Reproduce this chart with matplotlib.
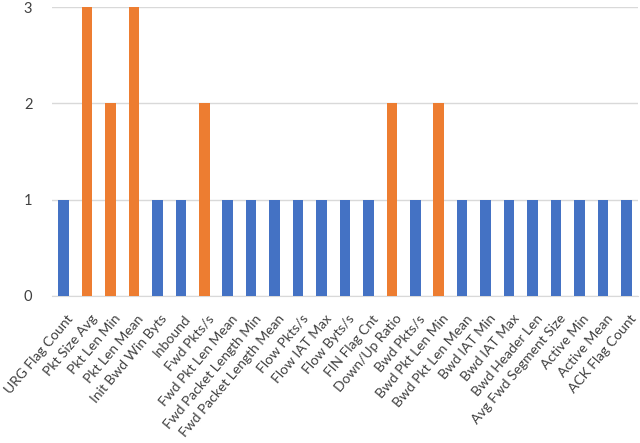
import matplotlib
matplotlib.use("Agg")
import matplotlib.pyplot as plt
from matplotlib.transforms import ScaledTranslation

categories = ["URG Flag Count", "Pkt Size Avg", "Pkt Len Min", "Pkt Len Mean", "Init Bwd Win Byts",
              "Inbound", "Fwd Pkts/s", "Fwd Pkt Len Mean", "Fwd Packet Length Min",
              "Fwd Packet Length Mean", "Flow Pkts/s", "Flow IAT Max", "Flow Byts/s",
              "FIN Flag Cnt", "Down/Up Ratio", "Bwd Pkts/s", "Bwd Pkt Len Min",
              "Bwd Pkt Len Mean", "Bwd IAT Min", "Bwd IAT Max", "Bwd Header Len",
              "Avg Fwd Segment Size", "Active Min", "Active Mean", "ACK Flag Count"]
values = [1, 3, 2, 3, 1, 1, 2, 1, 1, 1, 1, 1, 1, 1, 2, 1, 2, 1, 1, 1, 1, 1, 1, 1, 1]
yticks = [0, 1, 2, 3]

plt.rcParams['font.family'] = ['Lato', 'DejaVu Sans']
fig = plt.figure(figsize=(6.4, 4.43), dpi=100)
ax = fig.add_axes([0.081, 0.332, 0.916, 0.652])
colors = ['#ED7D31' if v > 1 else '#4472C4' for v in values]
x = list(range(len(categories)))
ax.bar(x, values, width=0.45, color=colors, zorder=3)
ax.set_xlim(-0.5, len(categories) - 0.5)
ax.set_ylim(0, 3)
ax.set_yticks(yticks)
ax.set_yticklabels([str(t) for t in yticks], fontsize=10.5, color='#404040')
ax.yaxis.grid(True, color='#D9D9D9', linewidth=1, zorder=0)
for s in ['top', 'right', 'left']:
    ax.spines[s].set_visible(False)
ax.spines['bottom'].set_color('#D9D9D9')
ax.tick_params(axis='both', length=0)
ax.tick_params(axis='y', pad=14)
ax.set_xticks(x)
ax.set_xticklabels(categories, rotation=50, ha='right', va='top', rotation_mode='anchor',
                   fontsize=10, color='#404040')
ax.tick_params(axis='x', pad=12)
offset = ScaledTranslation(3 / 100, 0, fig.dpi_scale_trans)
for lbl in ax.get_xticklabels():
    lbl.set_transform(lbl.get_transform() + offset)
fig.savefig("out.png", dpi=100)
